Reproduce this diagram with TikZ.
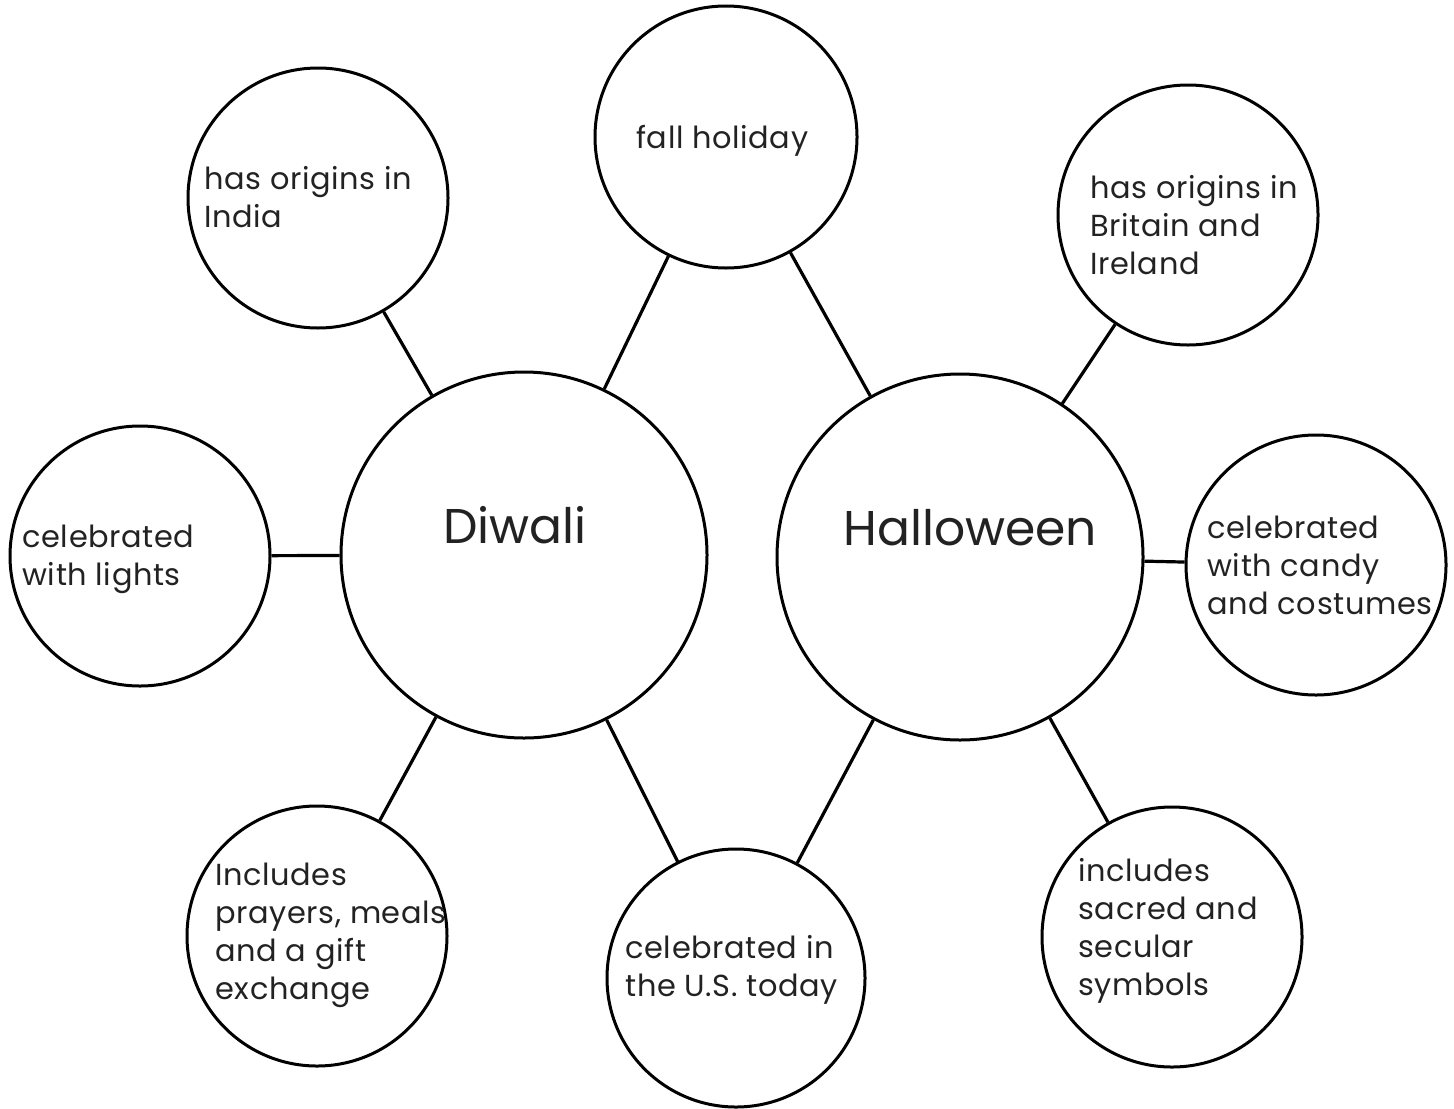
\documentclass[tikz,border=0pt]{standalone}
\usepackage{fontspec}
\setmainfont{Poppins}
\newfontfamily\smallfam{Poppins}[LetterSpace=2]
\definecolor{txt}{HTML}{222222}
\newcommand{\ml}[1]{\begin{tabular}[t]{@{}l@{}}#1\end{tabular}}
\renewcommand{\arraystretch}{1}
\begin{document}
\begin{tikzpicture}[x=0.5pt,y=-0.5pt,
  bub/.style={draw=black,line width=1.5pt,circle,minimum size=#1,inner sep=0pt},
  lbl/.style={anchor=base west,inner sep=0pt,text=txt,font=\smallfam\fontsize{15.2}{19}\selectfont},
  big/.style={anchor=base west,inner sep=0pt,text=txt,font=\fontsize{24.4}{28}\selectfont},
  link/.style={draw=black,line width=1.6pt}]
\useasboundingbox (0,0) rectangle (1454,1108);
% circles
\node[bub=183pt] (diwali) at (524,555) {};
\node[bub=183pt] (hallo) at (960,557) {};
\node[bub=131pt] (fall) at (726,137) {};
\node[bub=130pt] (india) at (318,198) {};
\node[bub=130pt] (brit) at (1188,215) {};
\node[bub=130pt] (lights) at (140,556) {};
\node[bub=130pt] (candy) at (1316,565) {};
\node[bub=130pt] (prayers) at (317,936) {};
\node[bub=129pt] (us) at (736,978) {};
\node[bub=130pt] (sacred) at (1172,937) {};
% texts
\node[big] (tdiw) at (443,543) {Diwali};
\node[big] (thal) at (843,545) {Halloween};
\node[lbl] (tfall) at (636,148) {fall holiday};
\node[lbl] (tindia) at (204,189) {\ml{has origins in\\India}};
\node[lbl] (tbrit) at (1090,198) {\ml{has origins in\\Britain and\\Ireland}};
\node[lbl] (tlights) at (22,547) {\ml{celebrated\\with lights}};
\node[lbl] (tcandy) at (1207,538) {\ml{celebrated\\with candy\\and costumes}};
\node[lbl] (tpray) at (215,885) {\ml{Includes\\prayers, meals\\and a gift\\exchange}};
\node[lbl] (tus) at (625,958) {\ml{celebrated in\\the U.S. today}};
\node[lbl] (tsac) at (1078,881) {\ml{includes\\sacred and\\secular\\symbols}};
% connectors
\draw[link] (india) -- (diwali);
\draw[link] (lights) -- (diwali);
\draw[link] (prayers) -- (diwali);
\draw[link] (fall) -- (diwali);
\draw[link] (fall) -- (hallo);
\draw[link] (us) -- (diwali);
\draw[link] (us) -- (hallo);
\draw[link] (brit) -- (hallo);
\draw[link] (candy) -- (hallo);
\draw[link] (sacred) -- (hallo);
\end{tikzpicture}
\end{document}
